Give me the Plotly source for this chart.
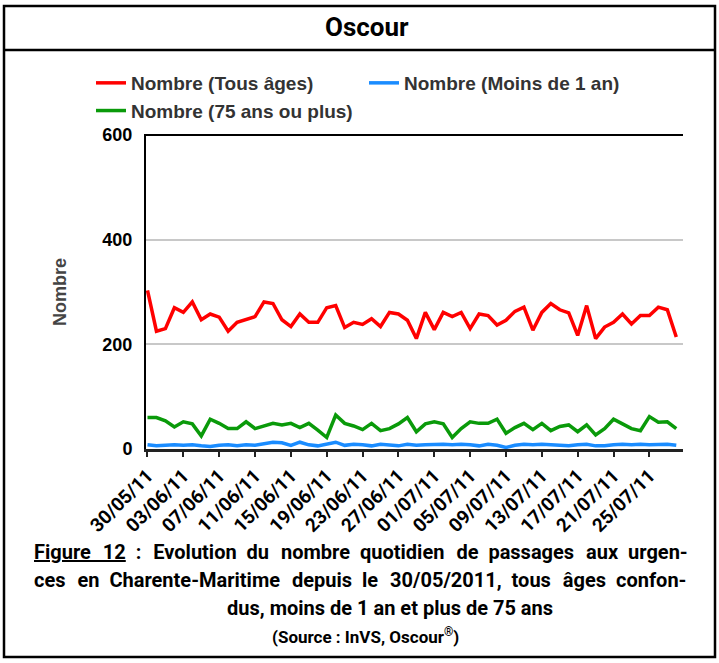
import pandas as pd
import plotly.graph_objects as go

# ---------------- data ----------------
dates = pd.date_range("2011-05-30", periods=60, freq="D")

tous_ages = [303, 225, 230, 270, 261, 281, 247, 258, 252, 225,
             242, 247, 253, 281, 278, 247, 234, 258, 242, 242,
             270, 274, 232, 242, 238, 249, 234, 261, 258, 246,
             211, 261, 228, 261, 253, 261, 230, 258, 255, 237,
             246, 263, 271, 227, 261, 278, 266, 260, 217, 274,
             211, 233, 242, 258, 239, 255, 255, 271, 266, 214]

moins_1_an = [8, 6, 7, 8, 7, 8, 6, 5, 7, 8,
              6, 8, 7, 10, 13, 12, 7, 13, 8, 6,
              9, 13, 7, 9, 8, 6, 9, 8, 6, 9,
              7, 8, 9, 9, 8, 9, 8, 6, 9, 7,
              3, 7, 9, 8, 9, 8, 8, 6, 8, 9,
              6, 6, 8, 9, 8, 9, 8, 8, 9, 7]

plus_75 = [60, 60, 54, 42, 52, 48, 25, 57, 49, 39,
           39, 52, 39, 44, 49, 46, 49, 41, 49, 36,
           22, 65, 49, 44, 37, 49, 35, 39, 48, 60,
           33, 48, 52, 48, 22, 39, 52, 49, 49, 57,
           30, 41, 49, 37, 49, 35, 43, 46, 33, 46,
           27, 39, 57, 48, 39, 35, 62, 51, 52, 39]

series_names = ["Nombre (Tous âges)", "Nombre (Moins de 1 an)", "Nombre (75 ans ou plus)"]
series_colors = ["#ff0000", "#1a8cff", "#0a9a0a"]
y_ticks = [0, 200, 400, 600]

title_text = "Oscour"
caption_line1_words = ["<u>Figure", "12</u>", ":", "Evolution", "du", "nombre", "quotidien",
                       "de", "passages", "aux", "urgen-"]
caption_line2_words = ["ces", "en", "Charente-Maritime", "depuis", "le", "30/05/2011,",
                       "tous", "âges", "confon-"]
caption_line3 = "dus, moins de 1 an et plus de 75 ans"
source_text = "(Source : InVS, Oscour<sup>®</sup>)"

# ---------------- layout helpers ----------------
W_PX, H_PX = 719, 663
L, R, T, B = 146, 683, 135, 449


def fx(p):
    return (p - L) / (R - L)


def fy(p):
    return (B - p) / (B - T)


def justify(words):
    """Join words with widened gaps to mimic a justified paragraph line."""
    out = words[0]
    for i, w in enumerate(words[1:]):
        out += " \u00a0" + ("\u200a" if i % 2 == 0 else "") + w
    return out


COND = "Roboto, Liberation Sans, sans-serif"
SANS = "Liberation Sans, Arial, sans-serif"

line1 = justify(caption_line1_words)
line2 = justify(caption_line2_words)

fig = go.Figure()
for name, vals, col in zip(series_names, [tous_ages, moins_1_an, plus_75], series_colors):
    fig.add_trace(go.Scatter(x=dates, y=vals, mode="lines", name=name,
                             line=dict(color=col, width=3.5)))

fig.update_layout(
    width=W_PX, height=H_PX,
    margin=dict(l=L, r=W_PX - R, t=T, b=H_PX - B),
    paper_bgcolor="white", plot_bgcolor="white",
    showlegend=True,
    legend=dict(orientation="h", x=fx(91), y=fy(64), xanchor="left", yanchor="top",
                font=dict(family=SANS, size=19, color="#333333", weight="bold"),
                entrywidth=228, itemwidth=30, bgcolor="rgba(0,0,0,0)"),
)

fig.update_xaxes(
    range=[pd.Timestamp("2011-05-29 20:00"), pd.Timestamp("2011-07-28 18:00")],
    tick0="2011-05-30", dtick=4 * 86400000, tickformat="%d/%m/%y",
    tickangle=-45, tickfont=dict(family=COND, size=19, color="black", weight="bold"),
    showline=True, linecolor="#222222", linewidth=3,
    ticks="outside", ticklen=5, tickwidth=2, tickcolor="#222222",
    showgrid=False, zeroline=False,
)
fig.update_yaxes(
    range=[0, 600], tickvals=y_ticks,
    tickfont=dict(family=SANS, size=18, color="black", weight="bold"),
    showline=True, linecolor="black", linewidth=2,
    showgrid=True, gridcolor="#c8c8c8", gridwidth=2,
    zeroline=False, ticks="", ticklabelstandoff=8,
    title=dict(text="Nombre", font=dict(family=SANS, size=18, color="#444444", weight="bold"),
               standoff=31),
)

# top border of plot (600 line in black)
fig.add_shape(type="line", xref="paper", yref="paper", x0=fx(144), x1=1, y0=1, y1=1,
              line=dict(color="black", width=2))
# outer frame
fig.add_shape(type="rect", xref="paper", yref="paper",
              x0=fx(4), x1=fx(715), y0=fy(657), y1=fy(6),
              line=dict(color="black", width=2.5), fillcolor="rgba(0,0,0,0)")
# separator under title
fig.add_shape(type="line", xref="paper", yref="paper",
              x0=fx(4), x1=fx(715), y0=fy(50), y1=fy(50),
              line=dict(color="black", width=2.5))

fig.add_annotation(text=title_text, xref="paper", yref="paper", x=fx(367), y=fy(27),
                   xanchor="center", yanchor="middle", showarrow=False,
                   font=dict(family=COND, size=26, color="black", weight="bold"))

cap_font = dict(family=COND, size=20, color="black", weight="bold")
fig.add_annotation(text=line1, xref="paper", yref="paper", x=fx(32), y=fy(552),
                   xanchor="left", yanchor="middle", showarrow=False, font=cap_font)
fig.add_annotation(text=line2, xref="paper", yref="paper", x=fx(32), y=fy(580),
                   xanchor="left", yanchor="middle", showarrow=False, font=cap_font)
fig.add_annotation(text=caption_line3, xref="paper", yref="paper", x=fx(390), y=fy(608),
                   xanchor="center", yanchor="middle", showarrow=False, font=cap_font)
fig.add_annotation(text=source_text, xref="paper", yref="paper", x=fx(365), y=fy(636),
                   xanchor="center", yanchor="middle", showarrow=False,
                   font=dict(family=COND, size=17, color="black", weight="bold"))

fig.write_html("out.html", config={"displayModeBar": False},
               post_script="document.body.style.margin='0';document.body.style.overflow='hidden';")
